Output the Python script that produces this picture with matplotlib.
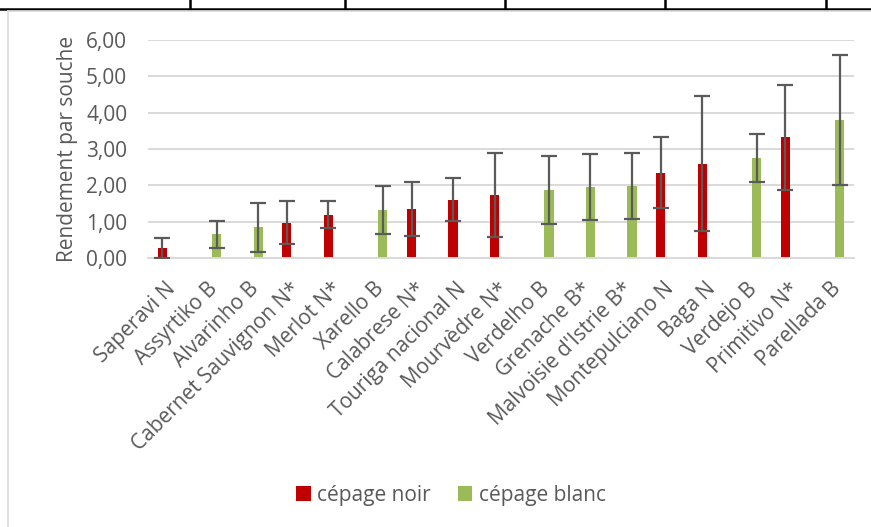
import matplotlib
matplotlib.use("Agg")
import matplotlib.pyplot as plt
import matplotlib.transforms as mtransforms
from matplotlib.lines import Line2D
from matplotlib.patches import Patch
import numpy as np

plt.rcParams['font.family'] = ['Open Sans', 'DejaVu Sans']

categories = ["Saperavi N", "Assyrtiko B", "Alvarinho B", "Cabernet Sauvignon N*",
              "Merlot N*", "Xarello B", "Calabrese N*", "Touriga nacional N",
              "Mourvèdre N*", "Verdelho B", "Grenache B*", "Malvoisie d'Istrie B*",
              "Montepulciano N", "Baga N", "Verdejo B", "Primitivo N*", "Parellada B"]
cepage_type = ["noir", "blanc", "blanc", "noir", "noir", "blanc", "noir", "noir",
               "noir", "blanc", "blanc", "blanc", "noir", "noir", "blanc", "noir", "blanc"]
rendement = [0.27, 0.65, 0.84, 0.97, 1.19, 1.32, 1.34, 1.61, 1.73,
             1.87, 1.95, 1.99, 2.35, 2.60, 2.74, 3.32, 3.79]
ecart = [0.29, 0.38, 0.67, 0.59, 0.37, 0.65, 0.74, 0.58, 1.15,
         0.94, 0.90, 0.91, 0.98, 1.85, 0.66, 1.44, 1.79]
yticks = [0, 1, 2, 3, 4, 5, 6]
series = ["noir", "blanc"]
series_labels = ["cépage noir", "cépage blanc"]
colors = {"noir": "#C00000", "blanc": "#9BBB59"}

W, H = 871, 527
fig = plt.figure(figsize=(W / 100, H / 100), dpi=100)
ax = fig.add_axes([148 / W, 1 - 258 / H, (854 - 148) / W, (258 - 40) / H])

x = np.arange(len(categories))
bw = 0.22
offs = {"noir": -0.155, "blanc": 0.155}
for s in series:
    idx = [i for i, t in enumerate(cepage_type) if t == s]
    xs = x[idx] + offs[s]
    vals = np.array([rendement[i] for i in idx])
    errs = np.array([ecart[i] for i in idx])
    lower = np.minimum(errs, vals)
    ax.bar(xs, vals, width=bw, color=colors[s], zorder=2)
    ax.errorbar(xs, vals, yerr=[lower, errs], fmt='none', ecolor='#5A5A5A',
                elinewidth=1.6, capsize=6, capthick=1.6, zorder=3)

ax.set_xlim(-0.5, len(categories) - 0.5)
ax.set_ylim(0, 6)
ax.set_yticks(yticks)
ax.set_yticklabels([f"{v:.2f}".replace(".", ",") for v in yticks])
ax.yaxis.grid(True, color='#D9D9D9', linewidth=1.4, zorder=0)
ax.set_axisbelow(True)
for sp in ['top', 'right', 'left']:
    ax.spines[sp].set_visible(False)
ax.spines['bottom'].set_color('#D9D9D9')
ax.spines['bottom'].set_linewidth(1.4)
ax.tick_params(axis='both', length=0, labelsize=15, colors='#595959')
ax.tick_params(axis='y', pad=15)
ax.set_xticks(x)
ax.set_xticklabels(categories, rotation=45, ha='right', va='center', rotation_mode='anchor')
ax.tick_params(axis='x', pad=20)
shift = mtransforms.ScaledTranslation(4 / 100, 0, fig.dpi_scale_trans)
for lbl in ax.get_xticklabels():
    lbl.set_transform(lbl.get_transform() + shift)
ax.set_ylabel("Rendement par souche", fontsize=15, color='#595959', labelpad=6)

handles = [Patch(facecolor=colors[s], edgecolor='none') for s in series]
fig.legend(handles, series_labels, loc='center', bbox_to_anchor=(451 / W, 1 - 495 / H),
           ncol=2, frameon=False, fontsize=15, labelcolor='#595959',
           handlelength=0.7, handleheight=0.7, handletextpad=0.3, columnspacing=1.3)

# surrounding frame / table lines
fig.add_artist(Line2D([0, 1], [1 - 9 / H, 1 - 9 / H], color='black', lw=1.8, transform=fig.transFigure))
for xv in [190, 345, 505, 665, 826]:
    fig.add_artist(Line2D([xv / W, xv / W], [1, 1 - 9 / H], color='black', lw=1.8, transform=fig.transFigure))
fig.add_artist(Line2D([8 / W, 1], [1 - 11 / H, 1 - 11 / H], color='#D9D9D9', lw=1.2, transform=fig.transFigure))
fig.add_artist(Line2D([8 / W, 8 / W], [1 - 11 / H, 0], color='#D9D9D9', lw=1.2, transform=fig.transFigure))

fig.savefig("out.png", dpi=100)
